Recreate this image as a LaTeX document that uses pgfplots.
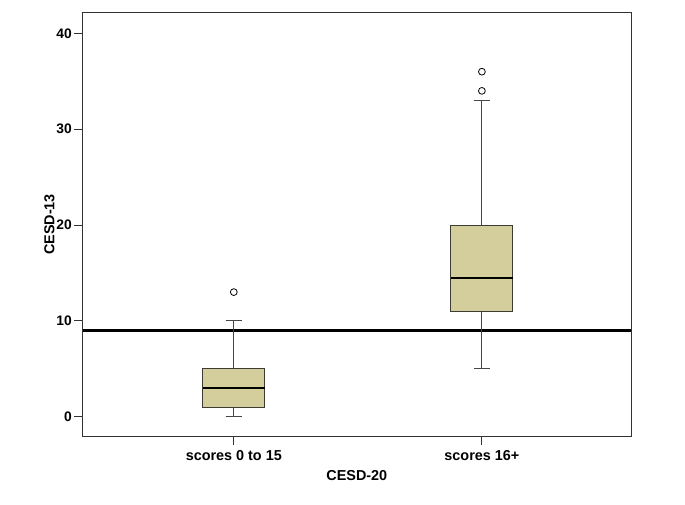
\documentclass[border=0pt]{standalone}
\usepackage{fontspec}
\setmainfont{Liberation Sans}
\usepackage{pgfplots}
\pgfplotsset{compat=1.18}
\usepgfplotslibrary{statistics}
\definecolor{boxfill}{RGB}{211,206,155}
\definecolor{boxedge}{RGB}{60,60,50}
\definecolor{whisk}{RGB}{70,70,70}
\begin{document}
\begin{tikzpicture}
\begin{axis}[
 scale only axis, width=548.3bp, height=424.4bp,
 xmin=0.391, xmax=2.601, ymin=-2.09, ymax=42.2,
 xtick={1,2}, xticklabels={scores 0 to 15, scores 16+},
 ytick={0,10,20,30,40},
 tick pos=left, tick align=outside, major tick length=8.5bp,
 tick style={black!80, line width=0.8bp},
 axis line style={line width=0.8bp, black!80},
 xticklabel style={font=\fontsize{14.4bp}{17bp}\selectfont\bfseries, yshift=-1.5bp},
 yticklabel style={font=\fontsize{13.8bp}{16bp}\selectfont\bfseries, xshift=1bp},
 /pgf/number format/assume math mode=true,
 xlabel={CESD-20}, ylabel={CESD-13},
 xlabel shift=3bp, ylabel shift=-5bp,
 label style={font=\fontsize{14.4bp}{17bp}\selectfont\bfseries},
 boxplot/draw direction=y,
 boxplot/every median/.style={black, line width=2.4bp},
 boxplot/every whisker/.style={whisk, line width=0.8bp},
 boxplot/every box/.style={draw=boxedge, fill=boxfill, line width=0.9bp},
]
\coordinate (sw) at (rel axis cs:0,0);
\coordinate (ne) at (rel axis cs:1,1);
\addplot[black, line width=2.6bp] coordinates {(0.391,9) (2.601,9)};
\addplot[boxplot prepared={draw position=1, lower whisker=0, lower quartile=1, median=3, upper quartile=5, upper whisker=10, box extend=0.25, whisker extend=0.065}, boxplot/draw direction=y, draw=boxedge, fill=boxfill, mark=o, mark size=3.4bp, mark options={draw=black, fill=none, line width=0.8bp}] table[row sep=\\, y index=0] {13\\};
\addplot[boxplot prepared={draw position=2, lower whisker=5, lower quartile=11, median=14.5, upper quartile=20, upper whisker=33, box extend=0.25, whisker extend=0.065}, boxplot/draw direction=y, draw=boxedge, fill=boxfill, mark=o, mark size=3.4bp, mark options={draw=black, fill=none, line width=0.8bp}] table[row sep=\\, y index=0] {34\\ 36\\};
\end{axis}
\pgfresetboundingbox
\path ([shift={(-82.7bp,-68.3bp)}]sw) rectangle ([shift={(54bp,12.3bp)}]ne);
\end{tikzpicture}
\end{document}
